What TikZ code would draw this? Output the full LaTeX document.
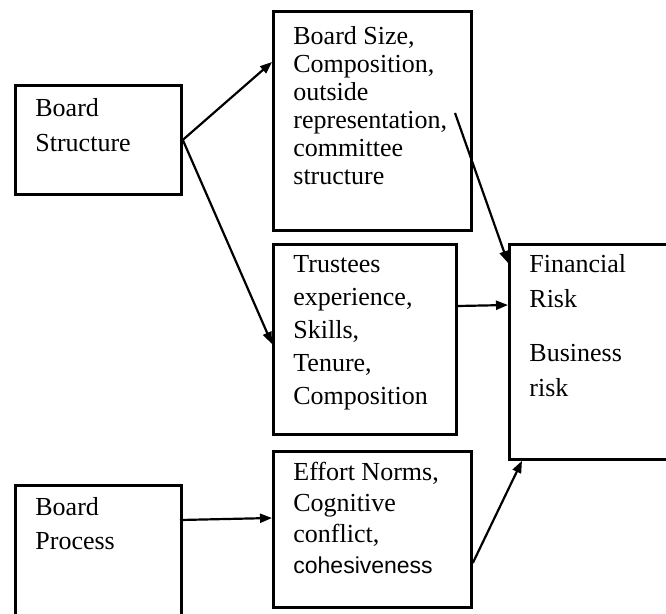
\documentclass[tikz,border=0pt]{standalone}
\usepackage{fontspec}
\setmainfont{Liberation Serif}
\newfontfamily\sansword{Liberation Sans}
\usepackage{tikz}
\usetikzlibrary{arrows.meta,calc}

% box text: width, height, first baseline, lines
\newcommand{\blktext}[4]{\parbox[t][#2pt][t]{#1pt}{\raggedright\rule{0pt}{#3pt}#4}}

\begin{document}
\begin{tikzpicture}[x=1pt,y=-1pt,
  blk/.style={draw, line width=2.8pt, anchor=north west, inner xsep=20pt, inner ysep=0pt},
  link/.style={line width=2.2pt, -{Triangle[length=12pt,width=9pt]}}]
\clip (0,0) rectangle (666,613);

\node[blk, font=\fontsize{26}{35}\selectfont] (bs) at (14,84)
  {\blktext{126}{109}{31}{Board\\Structure}};
\node[blk, font=\fontsize{26}{28}\selectfont] (bsz) at (272,10)
  {\blktext{158}{219}{33}{Board Size,\\Composition,\\outside\\representation,\\committee\\structure}};
\node[blk, font=\fontsize{26}{33}\selectfont] (tr) at (272,243)
  {\blktext{143}{190}{28}{Trustees\\experience,\\Skills,\\Tenure,\\Composition}};
\node[blk, font=\fontsize{26}{35}\selectfont] (fr) at (508,243)
  {\blktext{140}{215}{28}{Financial\\Risk\\[19pt]Business\\risk}};
\node[blk, font=\fontsize{26}{31}\selectfont] (ef) at (272,450)
  {\blktext{158}{156}{29}{Effort Norms,\\Cognitive\\conflict,\\{\sansword\fontsize{23}{31}\selectfont cohesiveness}}};
\node[blk, font=\fontsize{26}{34}\selectfont] (bp) at (14,484)
  {\blktext{126}{140}{30}{Board\\Process}};

\coordinate (c1) at (455,113);

\draw[link] (bs.east) -- ($(bsz.north west)+(0,52)$);
\draw[link] (bs.east) -- ($(tr.north west)+(0,101)$);
\draw[link] (c1) -- ($(fr.north west)+(0,20)$);
\draw[link] ($(tr.north east)+(0,63)$) -- ($(fr.north west)+(0,62)$);
\draw[link] ($(bp.north west)+(166,36)$) -- ($(ef.north west)+(0,68)$);
\draw[link] ($(ef.north east)+(0,113)$) -- ($(fr.south west)+(14,0)$);
\end{tikzpicture}
\end{document}
